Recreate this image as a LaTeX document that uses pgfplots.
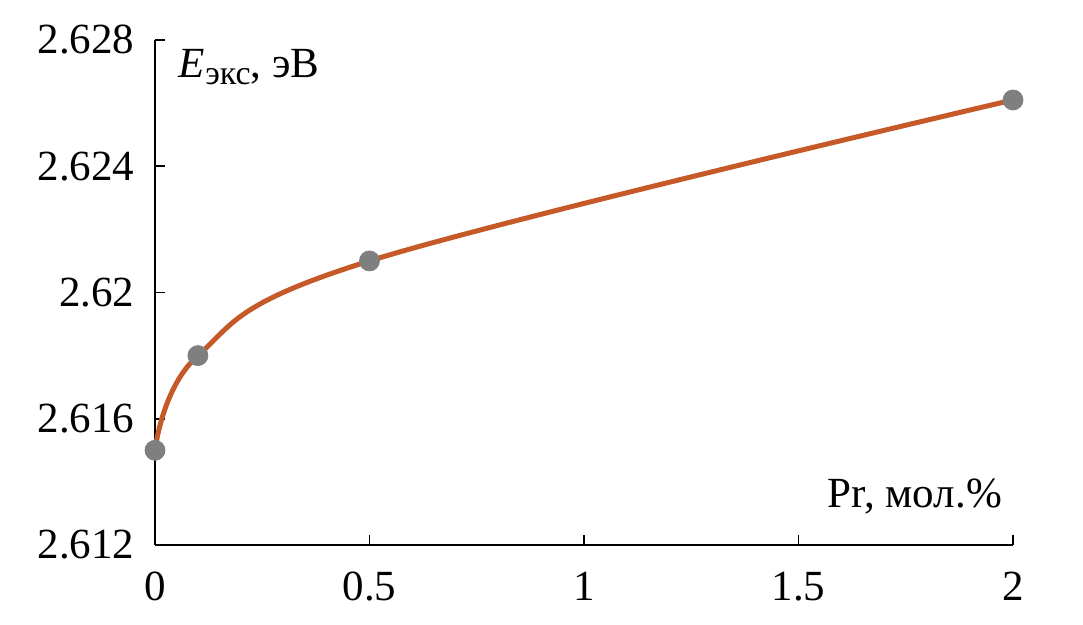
\documentclass[border=0pt]{standalone}
\usepackage{fontspec}
\setmainfont{Liberation Serif}
\usepackage{pgfplots}
\pgfplotsset{compat=1.18}
\definecolor{lineor}{HTML}{C55A28}
\definecolor{mgray}{HTML}{7F7F7F}
\begin{document}
\fontsize{21.5}{26}\selectfont
\begin{tikzpicture}
\begin{axis}[
  name=ax,
  at={(0,0)}, anchor=south west,
  scale only axis,
  width=429pt, height=252.5pt,
  xmin=0, xmax=2, ymin=2.612, ymax=2.628,
  axis lines=left,
  axis line style={-, line width=0.8pt},
  xtick={0,0.5,1,1.5,2},
  ytick={2.612,2.616,2.62,2.624,2.628},
  tick align=inside,
  major tick length=5pt,
  tick style={black, line width=0.8pt},
  /pgf/number format/assume math mode=true,
  yticklabel style={/pgf/number format/fixed, /pgf/number format/precision=3, font=\fontsize{21.5}{26}\selectfont, xshift=-3pt},
  xticklabel style={/pgf/number format/fixed, font=\fontsize{21.5}{26}\selectfont, yshift=-6pt},
  scaled y ticks=false,
  clip=false,
]
\addplot[color=lineor, line width=2.5pt, smooth, tension=0.6] coordinates {
  (0,2.615) (0.1,2.618) (0.5,2.621) (2,2.6261)
};
\addplot[only marks, mark=*, mark size=5pt, mark options={fill=mgray, draw=mgray}] coordinates {
  (0,2.615) (0.1,2.618) (0.5,2.621) (2,2.6261)
};
\node[anchor=base west, inner sep=0pt] at (axis cs:0.055,2.6268) {\fontsize{21.5}{26}\selectfont\textit{E}\raisebox{-0.35ex}{\fontsize{17}{20}\selectfont экс}, эВ};
\node[anchor=base east, inner sep=0pt] at (axis cs:1.975,2.6132) {\fontsize{21.5}{26}\selectfont Pr, мол.\%};
\end{axis}
\pgfresetboundingbox
\path (-77.5pt,-40pt) rectangle (464pt,272.5pt);
\end{tikzpicture}
\end{document}
